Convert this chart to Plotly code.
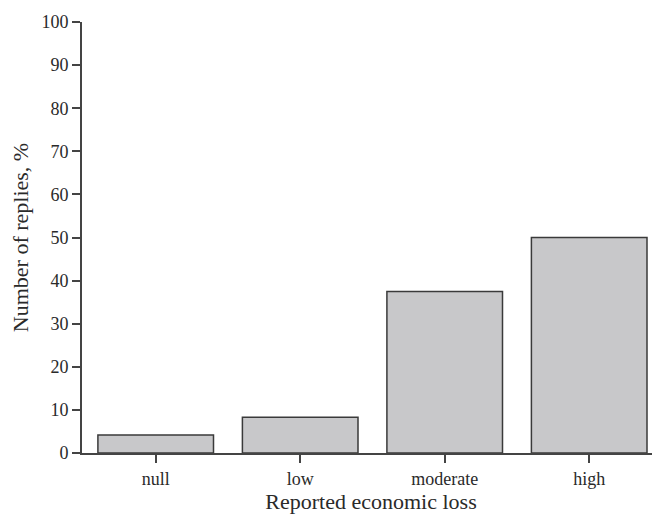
import plotly.graph_objects as go

categories = ["null", "low", "moderate", "high"]
values = [4.2, 8.3, 37.5, 50.0]
y_ticks = [0, 10, 20, 30, 40, 50, 60, 70, 80, 90, 100]

font_family = "Liberation Serif, Times New Roman, serif"

fig = go.Figure(go.Bar(
    x=categories, y=values,
    marker=dict(color="#c8c8ca", line=dict(color="#3a3a3a", width=1.5)),
))

fig.update_layout(
    width=652, height=507,
    margin=dict(l=74, r=0, t=14, b=62),
    paper_bgcolor="white", plot_bgcolor="white",
    bargap=0.2,
    showlegend=False,
    font=dict(family=font_family, color="#2a2a2a", size=18),
    xaxis=dict(
        range=[-0.51, 3.49],
        showline=True, linecolor="#444444", linewidth=2,
        ticks="outside", ticklen=8, tickcolor="#444444", tickwidth=1.5,
        showgrid=False, zeroline=False,
        tickfont=dict(size=18),
        title=dict(text="Reported economic loss", font=dict(size=22), standoff=4),
    ),
    yaxis=dict(
        range=[0, 100], tickvals=y_ticks,
        showline=True, linecolor="#444444", linewidth=2,
        ticks="outside", ticklen=8, tickcolor="#444444", tickwidth=1.5,
        showgrid=False, zeroline=False,
        tickfont=dict(size=18),
        title=dict(text="Number of replies, %", font=dict(size=22), standoff=10),
    ),
)

fig.write_html("out.html")
